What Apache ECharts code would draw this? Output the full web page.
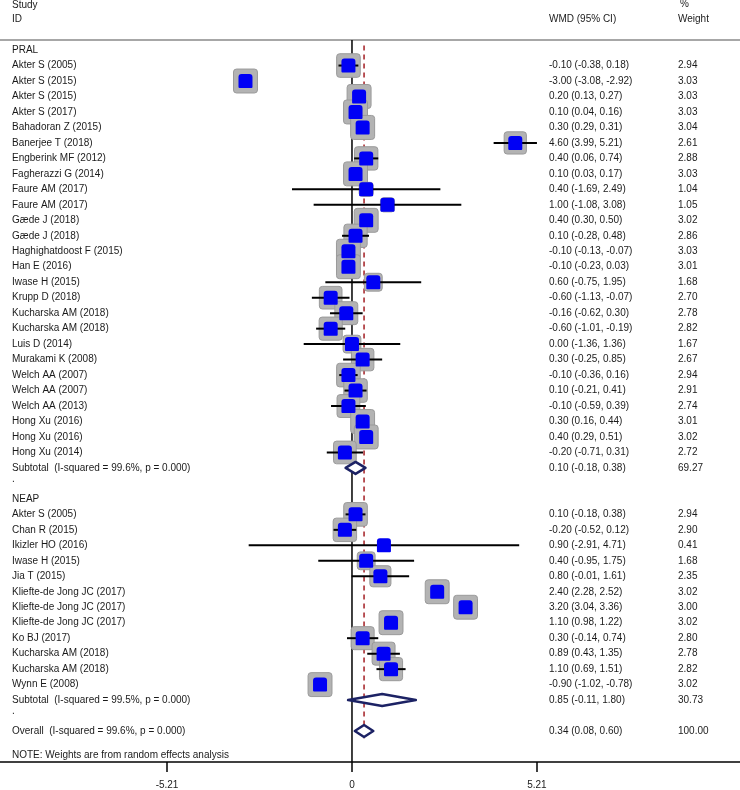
<!DOCTYPE html>
<html><head><meta charset="utf-8">
<script src="https://cdn.jsdelivr.net/npm/echarts@6/dist/echarts.min.js"></script>
<style>html,body{margin:0;padding:0;background:#fff}#c{width:740px;height:790px}</style>
</head><body><div id="c"></div>
<script>
// ---------- DATA ----------
const pralStudies = ["Akter S (2005)","Akter S (2015)","Akter S (2015)","Akter S (2017)","Bahadoran Z (2015)","Banerjee T (2018)","Engberink MF (2012)","Fagherazzi G (2014)","Faure AM (2017)","Faure AM (2017)","Gæde J (2018)","Gæde J (2018)","Haghighatdoost F (2015)","Han E (2016)","Iwase H (2015)","Krupp D (2018)","Kucharska AM (2018)","Kucharska AM (2018)","Luis D (2014)","Murakami K (2008)","Welch AA (2007)","Welch AA (2007)","Welch AA (2013)","Hong Xu (2016)","Hong Xu (2016)","Hong Xu (2014)"];
const pralWmd = [-0.10,-3.00,0.20,0.10,0.30,4.60,0.40,0.10,0.40,1.00,0.40,0.10,-0.10,-0.10,0.60,-0.60,-0.16,-0.60,0.00,0.30,-0.10,0.10,-0.10,0.30,0.40,-0.20];
const pralLo = [-0.38,-3.08,0.13,0.04,0.29,3.99,0.06,0.03,-1.69,-1.08,0.30,-0.28,-0.13,-0.23,-0.75,-1.13,-0.62,-1.01,-1.36,-0.25,-0.36,-0.21,-0.59,0.16,0.29,-0.71];
const pralHi = [0.18,-2.92,0.27,0.16,0.31,5.21,0.74,0.17,2.49,3.08,0.50,0.48,-0.07,0.03,1.95,-0.07,0.30,-0.19,1.36,0.85,0.16,0.41,0.39,0.44,0.51,0.31];
const pralWeight = [2.94,3.03,3.03,3.03,3.04,2.61,2.88,3.03,1.04,1.05,3.02,2.86,3.03,3.01,1.68,2.70,2.78,2.82,1.67,2.67,2.94,2.91,2.74,3.01,3.02,2.72];
const pralSubtotal = [0.10,-0.18,0.38,69.27];

const neapStudies = ["Akter S (2005)","Chan R (2015)","Ikizler HO (2016)","Iwase H (2015)","Jia T (2015)","Kliefte-de Jong JC (2017)","Kliefte-de Jong JC (2017)","Kliefte-de Jong JC (2017)","Ko BJ (2017)","Kucharska AM (2018)","Kucharska AM (2018)","Wynn E (2008)"];
const neapWmd = [0.10,-0.20,0.90,0.40,0.80,2.40,3.20,1.10,0.30,0.89,1.10,-0.90];
const neapLo = [-0.18,-0.52,-2.91,-0.95,-0.01,2.28,3.04,0.98,-0.14,0.43,0.69,-1.02];
const neapHi = [0.38,0.12,4.71,1.75,1.61,2.52,3.36,1.22,0.74,1.35,1.51,-0.78];
const neapWeight = [2.94,2.90,0.41,1.68,2.35,3.02,3.00,3.02,2.80,2.78,2.82,3.02];
const neapSubtotal = [0.85,-0.11,1.80,30.73];

const overallEst = [0.34,0.08,0.60,100.00];
const groupNames = ["PRAL","NEAP"];
const subtotalLabels = ["Subtotal  (I-squared = 99.6%, p = 0.000)","Subtotal  (I-squared = 99.5%, p = 0.000)"];
const overallLabel = "Overall  (I-squared = 99.6%, p = 0.000)";
const noteText = "NOTE: Weights are from random effects analysis";
const headers = ["Study","ID","WMD (95% CI)","%","Weight"];
const tickValues = [-5.21, 0, 5.21];

// ---------- LAYOUT ----------
const X_MIN = -9.915, X_MAX = 10.93;
const Y_MIN = -0.65, Y_MAX = 46;
const COL_LABEL = 12, COL_WMD = 549, COL_W = 678;
const FONT = "Liberation Sans, Arial, sans-serif";
const TXT = "#1a1a1a";

const f2 = v => v.toFixed(2);
const rows = [];
let r = 0;
function addGroup(name, studies, wmd, lo, hi, w, sub, subLabel){
  rows.push({row:r++, label:name, kind:'group'});
  studies.forEach((s,i)=>rows.push({row:r++, label:s, kind:'study', est:wmd[i], lo:lo[i], hi:hi[i], w:w[i]}));
  rows.push({row:r++, label:subLabel, kind:'sub', est:sub[0], lo:sub[1], hi:sub[2], w:sub[3]});
  rows.push({row:r++, label:'.', kind:'dot'});
}
addGroup(groupNames[0], pralStudies, pralWmd, pralLo, pralHi, pralWeight, pralSubtotal, subtotalLabels[0]);
addGroup(groupNames[1], neapStudies, neapWmd, neapLo, neapHi, neapWeight, neapSubtotal, subtotalLabels[1]);
rows.push({row:r++, label:overallLabel, kind:'sub', est:overallEst[0], lo:overallEst[1], hi:overallEst[2], w:overallEst[3]});
const noteRow = r + 0.55;

const studyRows = rows.filter(d=>d.kind==='study');
const diamondRows = rows.filter(d=>d.kind==='sub');
const maxW = Math.max(...pralWeight, ...neapWeight);

const texts = [];
texts.push({col:COL_LABEL, row:-2.9, t:headers[0]});
texts.push({col:COL_LABEL, row:-2.0, t:headers[1]});
texts.push({col:COL_WMD, row:-2.0, t:headers[2]});
texts.push({col:COL_W+2, row:-2.95, t:headers[3]});
texts.push({col:COL_W, row:-2.0, t:headers[4]});
rows.forEach(d=>{
  texts.push({col:COL_LABEL, row:d.row - (d.kind==='dot'?0.3:0), t:d.label});
  if(d.est!==undefined){
    texts.push({col:COL_WMD, row:d.row, t:`${f2(d.est)} (${f2(d.lo)}, ${f2(d.hi)})`});
    texts.push({col:COL_W, row:d.row, t:f2(d.w)});
  }
});
texts.push({col:COL_LABEL, row:noteRow, t:noteText});

const chart = echarts.init(document.getElementById('c'), null, {renderer:'canvas'});
const option = {
  animation:false,
  backgroundColor:'#fff',
  grid:{left:0,right:0,top:40,bottom:28},
  xAxis:{type:'value',min:X_MIN,max:X_MAX,splitLine:{show:false},
    axisLine:{show:true,onZero:false,lineStyle:{color:'#000',width:1.5}},
    axisTick:{show:true,customValues:tickValues,length:10,lineStyle:{color:'#000',width:1.5}},
    axisLabel:{show:true,customValues:tickValues,margin:18,fontSize:10,fontFamily:FONT,color:TXT,
      formatter:v=>Math.abs(v)<1e-9?'0':v.toFixed(2)}},
  yAxis:{type:'value',inverse:true,min:Y_MIN,max:Y_MAX,show:false},
  series:[
    { // reference lines
      type:'custom', clip:false, z:1,
      data:[[0,0]],
      renderItem:(p,api)=>{
        const top = api.coord([0,Y_MIN])[1], bot = api.coord([0,Y_MAX])[1];
        const z0 = api.coord([0,0])[0];
        const ox = api.coord([overallEst[0],0])[0];
        const lx = api.coord([X_MIN,0])[0], rx = api.coord([X_MAX,0])[0];
        return {type:'group',children:[
          {type:'line',shape:{x1:lx,y1:top,x2:rx,y2:top},style:{stroke:'#8a8a8a',lineWidth:1.5}},
          {type:'line',shape:{x1:z0,y1:top,x2:z0,y2:bot},style:{stroke:'#000',lineWidth:1.5}},
          {type:'line',shape:{x1:ox,y1:api.coord([0,-0.3])[1],x2:ox,y2:api.coord([0,44.5])[1]},
            style:{stroke:'#a31f24',lineWidth:1.5,lineDash:[5,4]}}
        ]};
      }
    },
    { // weight boxes
      type:'custom', z:2,
      data:studyRows.map(d=>[d.est,d.row,d.w]),
      renderItem:(p,api)=>{
        const c = api.coord([api.value(0),api.value(1)]);
        const s = 24*Math.sqrt(api.value(2)/maxW);
        return {type:'rect',shape:{x:c[0]-s/2,y:c[1]-s/2,width:s,height:s,r:3},
          style:{fill:'#b3b3b3',stroke:'#9a9a9a',lineWidth:1}};
      }
    },
    { // CI lines
      type:'custom', z:3,
      data:studyRows.map(d=>[d.lo,d.hi,d.row]),
      renderItem:(p,api)=>{
        const a = api.coord([api.value(0),api.value(2)]), b = api.coord([api.value(1),api.value(2)]);
        return {type:'line',shape:{x1:a[0],y1:a[1],x2:b[0],y2:b[1]},style:{stroke:'#000',lineWidth:2}};
      }
    },
    { // point markers
      type:'custom', z:4,
      data:studyRows.map(d=>[d.est,d.row]),
      renderItem:(p,api)=>{
        const c = api.coord([api.value(0),api.value(1)]);
        const s = 14;
        return {type:'rect',shape:{x:c[0]-s/2,y:c[1]-s/2,width:s,height:s,r:[3,3,1,1]},
          style:{fill:'#0000f5'}};
      }
    },
    { // diamonds
      type:'custom', z:5,
      data:diamondRows.map(d=>[d.est,d.lo,d.hi,d.row]),
      renderItem:(p,api)=>{
        const row = api.value(3);
        const c = api.coord([api.value(0),row]);
        const l = api.coord([api.value(1),row]), h = api.coord([api.value(2),row]);
        const hh = 6;
        return {type:'polygon',shape:{points:[[l[0],c[1]],[c[0],c[1]-hh],[h[0],c[1]],[c[0],c[1]+hh]]},
          style:{fill:'#fff',stroke:'#1c2264',lineWidth:2.5,lineJoin:'round'}};
      }
    },
    { // texts
      type:'custom', clip:false, z:6,
      data:texts.map(t=>[0,t.row]),
      renderItem:(p,api)=>{
        const t = texts[p.dataIndex];
        const y = api.coord([0,api.value(1)])[1];
        return {type:'text',x:t.col,y:y,style:{text:t.t,fill:TXT,font:`10px ${FONT}`,textAlign:'left',textVerticalAlign:'middle'}};
      }
    }
  ]
};
chart.setOption(option);
</script>
</body></html>
